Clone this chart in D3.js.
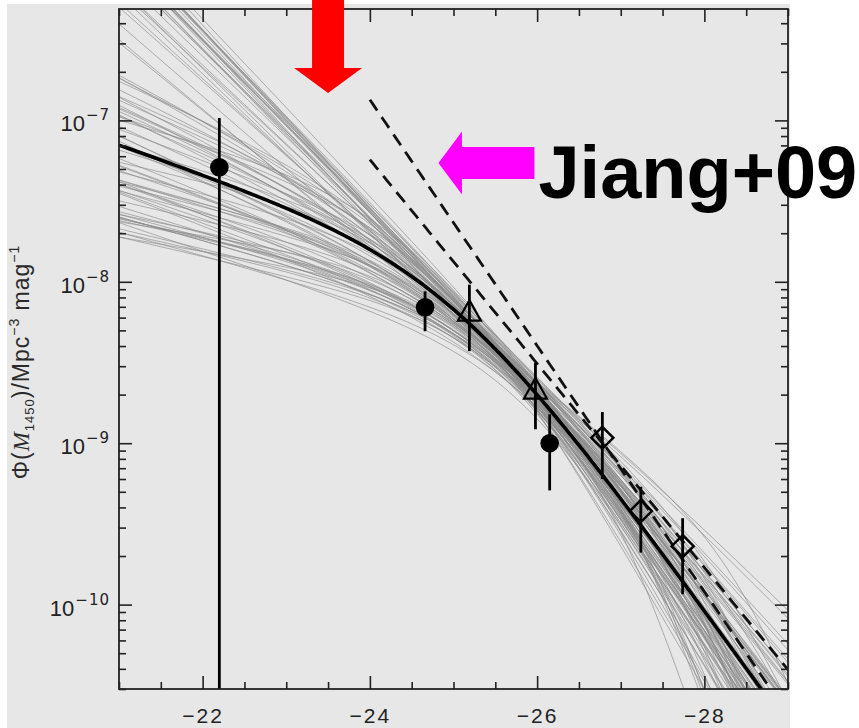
<!DOCTYPE html>
<html>
<head>
<meta charset="utf-8">
<script src="https://cdn.jsdelivr.net/npm/d3@7"></script>
<style>
  body { margin: 0; background: #fff; }
  svg { display: block; }
</style>
</head>
<body>
<svg id="chart" width="859" height="728"></svg>
<script>
// ---- axis ranges and ticks ----
const magDomain = [-21, -29];
const phiDomain = [3.0e-11, 4.9e-7];
const xMajorTicks = [-22, -24, -26, -28];
const yDecades = [-10, -9, -8, -7];

// ---- binned luminosity function points ----
const circleMag = [-22.2, -24.66, -26.15];
const circlePhi = [5.12e-8, 6.95e-9, 1.0e-9];
const circleLo  = [1.0e-12, 4.94e-9, 5.1e-10];
const circleHi  = [1.035e-7, 8.73e-9, 1.51e-9];

const triMag = [-25.19, -25.98];
const triPhi = [6.35e-9, 2.09e-9];
const triLo  = [3.72e-9, 1.22e-9];
const triHi  = [9.6e-9, 3.15e-9];

const diaMag = [-26.78, -27.24, -27.74];
const diaPhi = [1.08e-9, 3.8e-10, 2.3e-10];
const diaLo  = [6.0e-10, 2.1e-10, 1.16e-10];
const diaHi  = [1.56e-9, 5.37e-10, 3.43e-10];

// ---- best-fit double power law ----
const bestAlpha = -1.45;
const bestBeta = -2.8;
const bestMStar = -25.0;
const bestLogPhiStar = -7.87;

// ---- Jiang+09 power laws (log phi at M = -26, slope beta), drawn from M = -24 ----
const jiangLogPhi26 = [-8.396, -8.507];
const jiangBeta = [-2.905, -2.58];
const jiangStartMag = -24;

// ---- posterior draws of the double power law (alpha, beta, M*, log phi at M=-26) ----
const sampleAlpha = [
  -2.38,-2.35,-2.40,-2.33,-2.36,-2.30,-2.42,-2.31,-2.37,-2.28,-2.34,-2.39,-2.26,-2.32,-2.36,
  -2.29,-2.25,-2.40,-2.22,-2.34,-2.20,-2.18,-2.15,-2.27,-2.12,-2.08,-2.31,-2.37,-2.05,-2.24,
  -1.45,-1.30,-1.55,-1.40,-1.60,-1.30,-1.50,-1.35,-1.65,-1.28,-1.48,-1.38,-1.58,-1.36,-1.52,
  -1.42,-1.62,-1.33,-1.47,-1.22,-1.56,-1.36,-1.68,-1.26,-1.44,-1.54,-1.31,-1.49,-1.39,-1.59,
  -1.32,-1.46,-1.34,-1.63,-1.29,-1.51,-1.41,-1.57,-1.21,-1.43,-1.66,-1.36,-1.53,-1.37,-1.61,
  -1.27,-1.48,-1.35,-1.55,-1.30,-1.44,-1.64,-1.30,-1.50,-1.40,-1.58,-1.28,-1.46,-1.70,-1.33
];
const sampleMStar = [
  -27.6,-27.9,-27.3,-28.2,-27.1,-28.5,-27.0,-27.7,-28.0,-27.4,-27.2,-28.3,-27.8,-27.2,-28.6,
  -27.5,-28.1,-27.6,-27.3,-27.9,-28.4,-27.0,-27.7,-27.3,-28.0,-27.4,-28.2,-27.1,-28.5,-27.8,
  -25.0,-25.4,-24.8,-25.6,-24.6,-25.6,-25.2,-25.1,-24.9,-25.2,-25.7,-24.7,-25.3,-25.5,-24.5,
  -25.2,-25.6,-24.9,-25.4,-25.3,-25.0,-25.7,-24.8,-25.1,-25.9,-24.6,-25.5,-25.3,-24.8,-25.5,
  -25.3,-24.7,-25.2,-25.1,-24.6,-25.8,-25.4,-24.9,-25.0,-25.6,-25.2,-25.8,-25.3,-24.5,-25.7,
  -25.2,-25.0,-25.5,-24.7,-25.1,-25.1,-25.4,-24.8,-25.9,-25.3,-24.6,-25.4,-25.6,-25.0,-25.0
];
const sampleBeta = [
  -4.6,-4.2,-4.9,-3.9,-4.4,-3.8,-5.0,-4.1,-4.7,-3.7,-4.3,-4.0,-4.5,-3.6,-4.8,
  -4.2,-3.9,-3.5,-4.4,-4.6,-4.0,-4.7,-3.8,-4.9,-4.3,-4.1,-3.6,-4.0,-4.5,-5.0,
  -2.80,-2.90,-2.70,-3.00,-2.60,-3.00,-2.85,-2.75,-2.95,-2.65,-3.20,-2.55,-3.05,-2.90,-2.50,
  -2.70,-3.30,-2.85,-2.60,-2.95,-2.90,-2.75,-2.80,-2.65,-3.15,-2.70,-3.05,-2.35,-2.95,-2.85,
  -2.70,-2.90,-3.20,-2.55,-2.80,-2.95,-2.50,-3.10,-2.85,-2.65,-2.75,-2.90,-2.60,-2.95,-3.00,
  -2.55,-3.25,-2.80,-2.45,-2.95,-2.30,-2.90,-2.70,-2.85,-3.10,-2.85,-2.60,-2.75,-2.70,-2.90
];
const sampleLogPhi26 = [
  -8.66,-8.62,-8.70,-8.64,-8.68,-8.60,-8.72,-8.63,-8.67,-8.61,-8.69,-8.74,-8.59,-8.65,-8.70,
  -8.66,-8.62,-8.76,-8.64,-8.71,-8.60,-8.67,-8.63,-8.73,-8.65,-8.69,-8.68,-8.64,-8.62,-8.70,
  -8.70,-8.74,-8.68,-8.78,-8.66,-8.78,-8.72,-8.69,-8.71,-8.74,-8.82,-8.64,-8.75,-8.80,-8.63,
  -8.70,-8.79,-8.73,-8.67,-8.77,-8.74,-8.71,-8.72,-8.72,-8.85,-8.66,-8.80,-8.64,-8.75,-8.72,
  -8.74,-8.71,-8.81,-8.65,-8.74,-8.76,-8.66,-8.77,-8.79,-8.70,-8.68,-8.78,-8.69,-8.73,-8.74,
  -8.71,-8.80,-8.75,-8.62,-8.79,-8.63,-8.72,-8.76,-8.78,-8.77,-8.70,-8.74,-8.73,-8.67,-8.76
];

// ---- annotations ----
const redArrowTip = { mag: -23.5, phi: 1.48e-7 };
const magentaArrowTip = { mag: -24.82, phi: 5.45e-8 };
const annotationText = "Jiang+09";
const yTitleParts = ["\u03A6(", "M", "1450", ")/Mpc", "\u22123", " mag", "\u22121"];

// ---- layout ----
const W = 859, H = 728;
const plotLeft = 119, plotRight = 788, plotTop = 9, plotBottom = 689;
const ink = "#222";

const x = d3.scaleLinear().domain(magDomain).range([plotLeft, plotRight]);
const y = d3.scaleLog().domain(phiDomain).range([plotBottom, plotTop]);

const svg = d3.select("#chart");
svg.append("rect").attr("width", W).attr("height", H).attr("fill", "#fff");
svg.append("rect").attr("x", 7).attr("y", 4).attr("width", 783).attr("height", H - 4)
  .attr("fill", "#e7e7e7");

svg.append("defs").append("clipPath").attr("id", "plotClip")
  .append("rect").attr("x", plotLeft).attr("y", plotTop)
  .attr("width", plotRight - plotLeft).attr("height", plotBottom - plotTop);

const plot = svg.append("g").attr("clip-path", "url(#plotClip)");

// double power law in log space
function logDpl(M, a, b, ms, logPhiStar) {
  return logPhiStar - Math.log10(Math.pow(10, 0.4 * (a + 1) * (M - ms)) +
                                 Math.pow(10, 0.4 * (b + 1) * (M - ms)));
}
function logPhiStarFrom26(a, b, ms, lp26) {
  return lp26 + Math.log10(Math.pow(10, 0.4 * (a + 1) * (-26 - ms)) +
                           Math.pow(10, 0.4 * (b + 1) * (-26 - ms)));
}

const magGrid = d3.range(magDomain[0], magDomain[1] - 0.0001, -0.025);
const line = d3.line().x(d => x(d[0])).y(d => y(d[1]));

// posterior draws
plot.append("g")
  .attr("fill", "none")
  .attr("stroke", "#8a8a8a")
  .attr("stroke-width", 0.8)
  .attr("stroke-opacity", 0.85)
  .selectAll("path")
  .data(d3.range(sampleAlpha.length))
  .join("path")
  .attr("d", i => {
    const lps = logPhiStarFrom26(sampleAlpha[i], sampleBeta[i], sampleMStar[i], sampleLogPhi26[i]);
    return line(magGrid.map(M => [M, Math.pow(10, logDpl(M, sampleAlpha[i], sampleBeta[i], sampleMStar[i], lps))]));
  });

// Jiang+09 power laws
const jiangGrid = d3.range(jiangStartMag, magDomain[1] - 0.0001, -0.025);
plot.append("g")
  .attr("fill", "none")
  .attr("stroke", "#111")
  .attr("stroke-width", 2.8)
  .attr("stroke-dasharray", "13,8")
  .selectAll("path")
  .data(d3.range(jiangBeta.length))
  .join("path")
  .attr("d", i => line(jiangGrid.map(M =>
    [M, Math.pow(10, jiangLogPhi26[i] - 0.4 * (jiangBeta[i] + 1) * (M + 26))])));

// best fit
plot.append("path")
  .attr("fill", "none")
  .attr("stroke", "#000")
  .attr("stroke-width", 3.6)
  .attr("d", line(magGrid.map(M => [M, Math.pow(10, logDpl(M, bestAlpha, bestBeta, bestMStar, bestLogPhiStar))])));

// error bars and markers
function errorBars(mags, lo, hi) {
  plot.append("g").attr("stroke", "#000").attr("stroke-width", 2.8)
    .selectAll("line").data(mags).join("line")
    .attr("x1", d => x(d)).attr("x2", d => x(d))
    .attr("y1", (d, i) => y(lo[i])).attr("y2", (d, i) => y(hi[i]));
}
errorBars(circleMag, circleLo, circleHi);
errorBars(triMag, triLo, triHi);
errorBars(diaMag, diaLo, diaHi);

plot.append("g").selectAll("circle").data(circleMag).join("circle")
  .attr("cx", d => x(d)).attr("cy", (d, i) => y(circlePhi[i])).attr("r", 9.3)
  .attr("fill", "#000");

plot.append("g").selectAll("path").data(triMag).join("path")
  .attr("transform", (d, i) => `translate(${x(d)},${y(triPhi[i])})`)
  .attr("d", "M0,-13.5L11.5,7L-11.5,7Z")
  .attr("fill", "none").attr("stroke", "#000").attr("stroke-width", 2.2)
  .attr("stroke-linejoin", "miter");

plot.append("g").selectAll("path").data(diaMag).join("path")
  .attr("transform", (d, i) => `translate(${x(d)},${y(diaPhi[i])})`)
  .attr("d", "M0,-11L11,0L0,11L-11,0Z")
  .attr("fill", "none").attr("stroke", "#000").attr("stroke-width", 2.5);

// ---- axes ----
const xMinorTicks = d3.range(-21, -29.01, -0.5).filter(v => !xMajorTicks.includes(v));
const yMajorTicks = yDecades.map(n => Math.pow(10, n));
const yMinorTicks = [];
for (let n = -11; n <= -7; n++) {
  for (let k = 2; k <= 9; k++) {
    const v = k * Math.pow(10, n);
    if (v >= phiDomain[0] && v <= phiDomain[1]) yMinorTicks.push(v);
  }
}

function styleAxis(g) {
  g.select(".domain").remove();
  g.selectAll(".tick line").attr("stroke", ink).attr("stroke-width", 1.6);
}

const fmtMag = d => "\u2212" + Math.abs(d);

// bottom
svg.append("g").attr("transform", `translate(0,${plotBottom})`)
  .call(d3.axisBottom(x).tickValues(xMajorTicks).tickSizeInner(-13).tickSizeOuter(0)
    .tickPadding(19).tickFormat(fmtMag))
  .call(styleAxis)
  .call(g => g.selectAll("text")
    .attr("fill", ink).attr("font-size", 21)
    .attr("font-family", "'Liberation Sans', Arial, sans-serif")
    .attr("letter-spacing", "2px"));
svg.append("g").attr("transform", `translate(0,${plotBottom})`)
  .call(d3.axisBottom(x).tickValues(xMinorTicks).tickSizeInner(-7).tickSizeOuter(0).tickFormat(""))
  .call(styleAxis);
// top
svg.append("g").attr("transform", `translate(0,${plotTop})`)
  .call(d3.axisTop(x).tickValues(xMajorTicks).tickSizeInner(-13).tickSizeOuter(0).tickFormat(""))
  .call(styleAxis);
svg.append("g").attr("transform", `translate(0,${plotTop})`)
  .call(d3.axisTop(x).tickValues(xMinorTicks).tickSizeInner(-7).tickSizeOuter(0).tickFormat(""))
  .call(styleAxis);
// left
svg.append("g").attr("transform", `translate(${plotLeft},0)`)
  .call(d3.axisLeft(y).tickValues(yMajorTicks).tickSizeInner(-13).tickSizeOuter(0).tickFormat(""))
  .call(styleAxis);
svg.append("g").attr("transform", `translate(${plotLeft},0)`)
  .call(d3.axisLeft(y).tickValues(yMinorTicks).tickSizeInner(-7).tickSizeOuter(0).tickFormat(""))
  .call(styleAxis);
// right
svg.append("g").attr("transform", `translate(${plotRight},0)`)
  .call(d3.axisRight(y).tickValues(yMajorTicks).tickSizeInner(-13).tickSizeOuter(0).tickFormat(""))
  .call(styleAxis);
svg.append("g").attr("transform", `translate(${plotRight},0)`)
  .call(d3.axisRight(y).tickValues(yMinorTicks).tickSizeInner(-7).tickSizeOuter(0).tickFormat(""))
  .call(styleAxis);

// frame
svg.append("rect")
  .attr("x", plotLeft).attr("y", plotTop)
  .attr("width", plotRight - plotLeft).attr("height", plotBottom - plotTop)
  .attr("fill", "none").attr("stroke", ink).attr("stroke-width", 1.8);

// y tick labels: 10 with a superscript exponent
const yLabels = svg.append("g").attr("fill", ink);
yDecades.forEach(n => {
  const ty = y(Math.pow(10, n));
  const sup = yLabels.append("text")
    .attr("x", 110).attr("y", ty)
    .attr("text-anchor", "end").attr("font-size", 15)
    .attr("font-family", "'DejaVu Sans', sans-serif")
    .attr("letter-spacing", "1px")
    .text("\u2212" + Math.abs(n));
  const w = sup.node().getComputedTextLength();
  yLabels.append("text")
    .attr("x", 110 - w - 1).attr("y", ty + 11)
    .attr("text-anchor", "end").attr("font-size", 22)
    .attr("font-family", "'Liberation Sans', Arial, sans-serif")
    .text("10");
});

// y axis title
const title = svg.append("text")
  .attr("transform", `translate(29,${(plotTop + plotBottom) / 2 + 13}) rotate(-90)`)
  .attr("text-anchor", "middle")
  .attr("fill", "#2a2a2a")
  .attr("font-size", 23)
  .attr("letter-spacing", "1px")
  .attr("font-family", "'Liberation Sans', Arial, sans-serif");
title.append("tspan").text(yTitleParts[0]);
title.append("tspan").attr("font-style", "italic")
  .attr("font-family", "'Liberation Serif', serif").text(yTitleParts[1]);
title.append("tspan").attr("font-size", 13).attr("dy", 5).text(yTitleParts[2]);
title.append("tspan").attr("dy", -5).text(yTitleParts[3]);
title.append("tspan").attr("font-size", 14).attr("dy", -10).text(yTitleParts[4]);
title.append("tspan").attr("dy", 10).text(yTitleParts[5]);
title.append("tspan").attr("font-size", 14).attr("dy", -10).text(yTitleParts[6]);

// ---- annotation arrows ----
const rt = [x(redArrowTip.mag), y(redArrowTip.phi)];
svg.append("path")
  .attr("fill", "#ff0000")
  .attr("d", `M${rt[0]},${rt[1]} L${rt[0] + 34},${rt[1] - 25} L${rt[0] + 16},${rt[1] - 25}
              L${rt[0] + 16},0 L${rt[0] - 16},0 L${rt[0] - 16},${rt[1] - 25}
              L${rt[0] - 34},${rt[1] - 25} Z`);

const mt = [x(magentaArrowTip.mag), y(magentaArrowTip.phi)];
const tailX = mt[0] + 96;
svg.append("path")
  .attr("fill", "#ff00ff")
  .attr("d", `M${mt[0]},${mt[1]} L${mt[0] + 23.5},${mt[1] - 31.5} L${mt[0] + 23.5},${mt[1] - 16}
              L${tailX},${mt[1] - 16} L${tailX},${mt[1] + 16} L${mt[0] + 23.5},${mt[1] + 16}
              L${mt[0] + 23.5},${mt[1] + 31.5} Z`);

svg.append("text")
  .attr("x", tailX + 4).attr("y", mt[1] + 35)
  .attr("font-family", "'Liberation Sans', Arial, sans-serif")
  .attr("font-weight", "bold")
  .attr("font-size", 74)
  .attr("fill", "#000")
  .text(annotationText);
</script>
</body>
</html>
